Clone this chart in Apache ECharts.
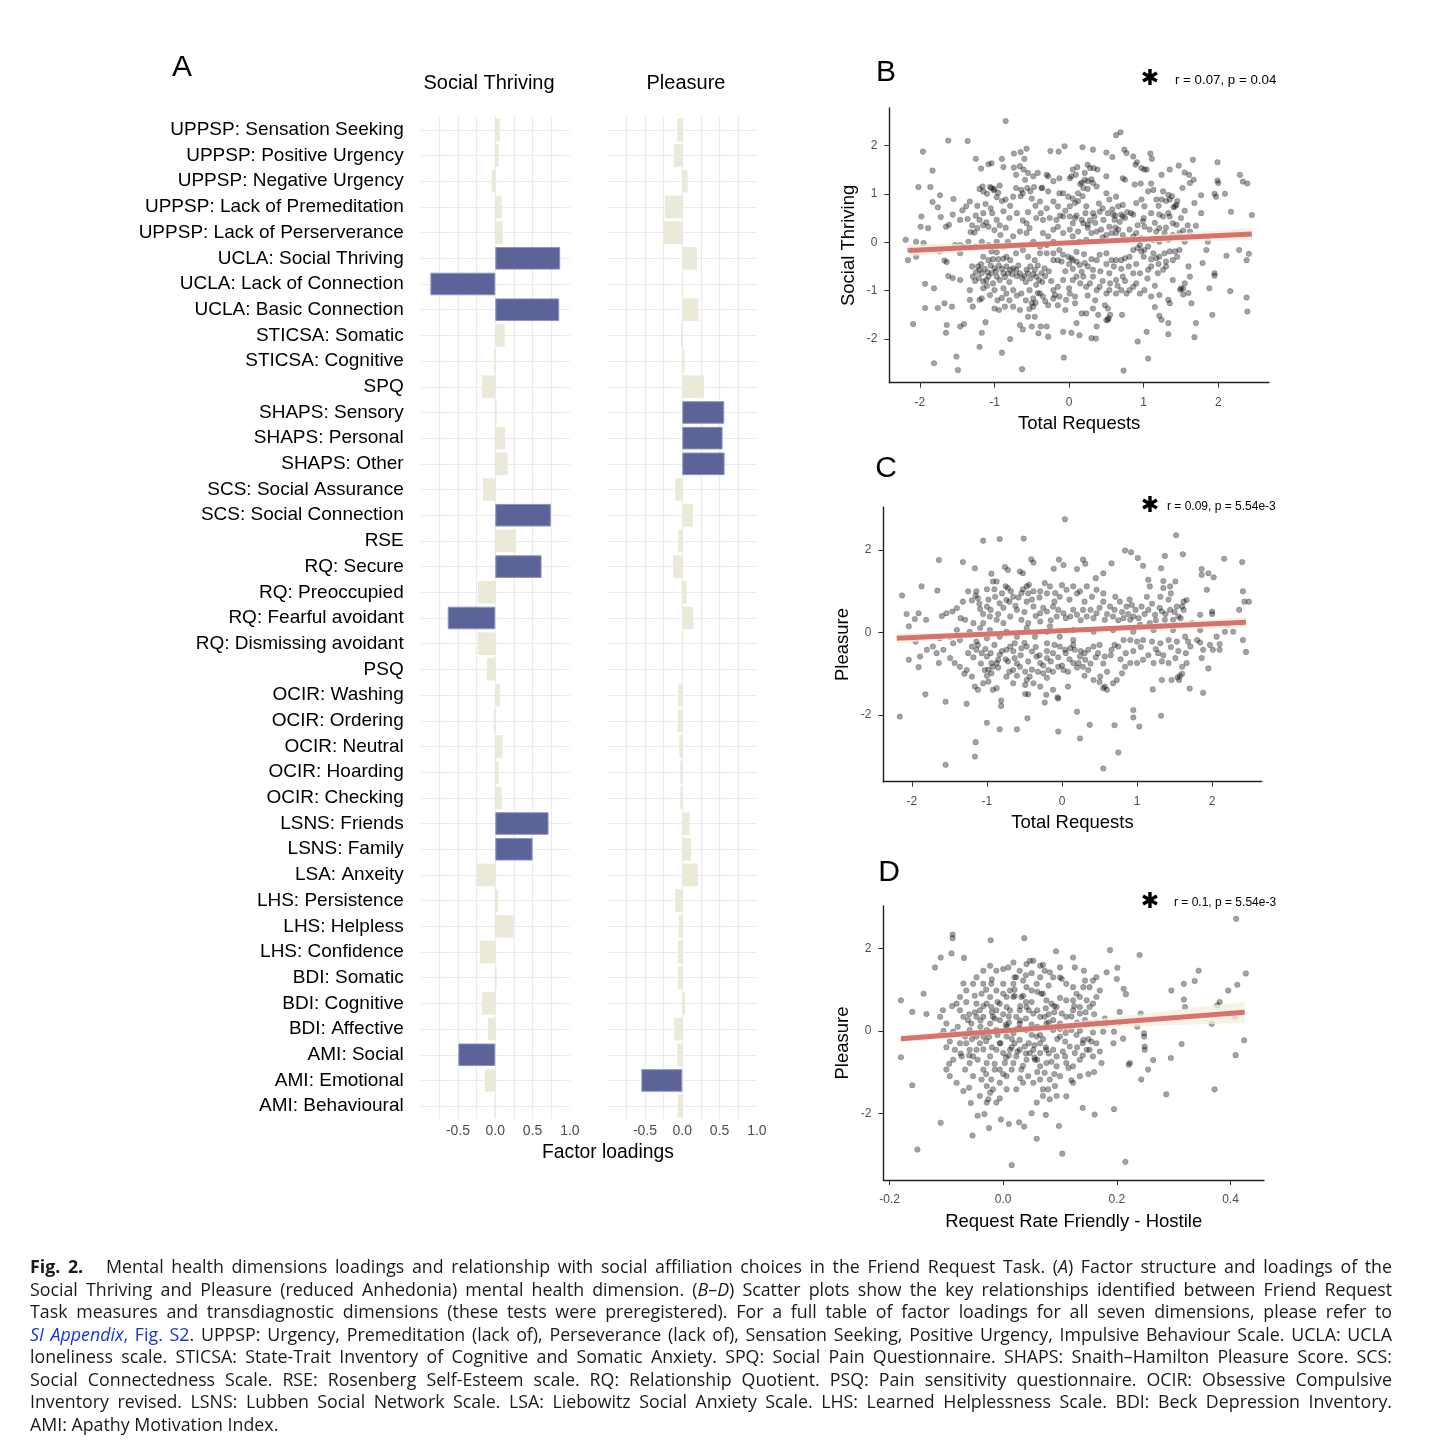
<!DOCTYPE html>
<html>
<head>
<meta charset="utf-8">
<script src="https://cdn.jsdelivr.net/npm/echarts@6/dist/echarts.min.js"></script>
<style>
html,body{margin:0;padding:0;background:#fff;}
#chart{position:absolute;left:0;top:0;width:1436px;height:1456px;}
#caption{position:absolute;left:30px;top:1255px;width:1362px;font-family:'Open Sans',sans-serif;font-size:17.8px;line-height:22.57px;color:#1a1a1a;}
#caption div{white-space:nowrap;text-align:left;}
#caption div.fit{text-align:justify;text-align-last:justify;}
#caption .lnk{color:#1535d8;}
</style>
</head>
<body>
<div id="chart"></div>
<div id="caption">
<div><span><b>Fig. 2.</b>&nbsp;&nbsp; Mental health dimensions loadings and relationship with social affiliation choices in the Friend Request Task. (<i>A</i>) Factor structure and loadings of the</span></div>
<div><span>Social Thriving and Pleasure (reduced Anhedonia) mental health dimension. (<i>B</i>–<i>D</i>) Scatter plots show the key relationships identified between Friend Request</span></div>
<div><span>Task measures and transdiagnostic dimensions (these tests were preregistered). For a full table of factor loadings for all seven dimensions, please refer to</span></div>
<div><span><span class="lnk"><i>SI Appendix</i>, Fig. S2</span>. UPPSP: Urgency, Premeditation (lack of), Perseverance (lack of), Sensation Seeking, Positive Urgency, Impulsive Behaviour Scale. UCLA: UCLA</span></div>
<div><span>loneliness scale. STICSA: State-Trait Inventory of Cognitive and Somatic Anxiety. SPQ: Social Pain Questionnaire. SHAPS: Snaith–Hamilton Pleasure Score. SCS:</span></div>
<div><span>Social Connectedness Scale. RSE: Rosenberg Self-Esteem scale. RQ: Relationship Quotient. PSQ: Pain sensitivity questionnaire. OCIR: Obsessive Compulsive</span></div>
<div><span>Inventory revised. LSNS: Lubben Social Network Scale. LSA: Liebowitz Social Anxiety Scale. LHS: Learned Helplessness Scale. BDI: Beck Depression Inventory.</span></div>
<div class="last"><span>AMI: Apathy Motivation Index.</span></div>
</div>
<script>
// ---------------- DATA ----------------
const categories = [
  'UPPSP: Sensation Seeking','UPPSP: Positive Urgency','UPPSP: Negative Urgency','UPPSP: Lack of Premeditation',
  'UPPSP: Lack of Perserverance','UCLA: Social Thriving','UCLA: Lack of Connection','UCLA: Basic Connection',
  'STICSA: Somatic','STICSA: Cognitive','SPQ','SHAPS: Sensory','SHAPS: Personal','SHAPS: Other',
  'SCS: Social Assurance','SCS: Social Connection','RSE','RQ: Secure','RQ: Preoccupied','RQ: Fearful avoidant',
  'RQ: Dismissing avoidant','PSQ','OCIR: Washing','OCIR: Ordering','OCIR: Neutral','OCIR: Hoarding','OCIR: Checking',
  'LSNS: Friends','LSNS: Family','LSA: Anxeity','LHS: Persistence','LHS: Helpless','LHS: Confidence',
  'BDI: Somatic','BDI: Cognitive','BDI: Affective','AMI: Social','AMI: Emotional','AMI: Behavioural'
];
const socialThriving = [0.06,0.045,-0.05,0.085,0.10,0.87,-0.87,0.857,0.125,-0.02,-0.18,0.02,0.13,0.165,-0.165,0.745,
  0.277,0.62,-0.232,-0.638,-0.237,-0.11,0.062,-0.022,0.098,0.045,0.085,0.714,0.50,-0.26,0.04,0.245,-0.205,0.018,-0.18,
  -0.098,-0.495,-0.143,-0.013];
const pleasure = [-0.067,-0.116,0.071,-0.232,-0.254,0.196,0.005,0.214,-0.018,0.03,0.29,0.5625,0.54,0.567,-0.094,0.143,
  -0.054,-0.125,0.058,0.147,0.009,0.002,-0.054,-0.062,-0.04,-0.027,-0.027,0.098,0.116,0.21,-0.094,-0.045,-0.058,-0.058,
  0.036,-0.107,-0.067,-0.549,-0.062];
const loadingTickLabels = [-0.5, 0, 0.5, 1.0];

const scatterB = [
[-0.85,2.5],[-1.62,2.1],[-1.36,2.09],[-1.96,1.87],[0.63,2.21],[0.69,2.27],[-0.06,1.98],[-0.14,1.87],[-0.25,1.88],[-0.57,1.93],
[-0.74,1.83],[-0.65,1.86],[-0.6,1.72],[0.18,1.96],[0.32,1.91],[0.5,1.85],[0.58,1.76],[0.74,1.91],[0.77,1.84],[0.86,1.77],
[1.09,1.83],[1.11,1.72],[1.66,1.7],[1.99,1.65],[-2.02,1.14],[-1.86,1.14],[-1.83,1.48],[-1.25,1.72],[-0.9,1.72],[-0.88,1.55],
[-1.18,1.52],[-1.08,1.61],[-1.04,1.63],[2.29,1.39],[2.33,1.25],[2.39,1.21],[1.99,1.27],[2.0,1.22],[2.09,1.0],[1.95,1.0],
[1.97,0.94],[2.17,0.63],[2.45,0.56],[2.41,-0.24],[2.38,-0.37],[2.28,-0.16],[2.11,-0.28],[2.38,-1.14],[2.39,-1.43],[2.16,-1.01],
[1.92,-1.5],[1.88,-0.95],[1.95,-0.69],[1.95,-0.64],[1.79,-0.43],[1.84,-0.16],[1.86,0.01],[1.77,0.6],[1.77,0.97],[1.68,0.81],
[1.7,0.34],[1.7,-1.67],[1.68,-1.96],[1.64,-1.26],[1.6,-1.05],[1.53,-0.96],[1.49,-0.98],[1.53,-1.08],[1.62,-0.71],[1.6,-0.5],
[1.33,-1.67],[1.33,-1.9],[1.24,-1.6],[1.21,-1.52],[1.15,-1.34],[1.04,-1.85],[1.06,-2.4],[0.92,-2.05],[0.73,-2.65],[0.71,-1.5],
[0.5,-1.61],[0.53,-1.57],[0.39,-1.5],[0.37,-1.74],[0.3,-1.98],[0.36,-1.99],[0.14,-1.92],[0.1,-1.67],[0.03,-1.87],[-0.08,-1.85],
[-0.07,-2.38],[-0.28,-1.95],[-0.3,-1.74],[-0.38,-1.74],[-0.41,-1.88],[-0.5,-1.74],[-0.62,-1.8],[-0.63,-2.62],[-0.66,-1.71],[-0.79,-2.0],
[-0.9,-2.28],[-1.12,-1.65],[-1.2,-2.16],[-1.17,-1.87],[-1.41,-1.69],[-1.46,-1.74],[-1.51,-2.36],[-1.49,-2.64],[-1.64,-1.71],[-1.65,-1.87],
[-1.81,-2.5],[-2.09,-1.69],[-1.93,-1.36],[-1.76,-1.36],[-1.67,-1.26],[-1.57,-1.33],[-1.93,-0.86],[-1.81,-0.95],[-2.16,-0.37],[-2.13,-0.16],
[-2.19,0.05],[-2.05,0.01],[-1.95,-0.02],[-2.05,-0.3],[-1.98,0.53],[-1.99,0.32],[-1.89,0.29],[-1.83,0.83],[-1.76,0.72],[-1.73,0.97],
[-1.72,0.52],[-1.65,0.32],[-1.61,0.36],[-1.55,0.89],[-1.56,0.57],[-1.53,-0.06],[-1.46,-0.06],[-1.74,-0.19],[-1.67,-0.38],[-1.64,-0.41],
[-1.62,-0.7],[-1.56,-0.74],[-1.46,-0.78],
[-1.2,1.1],[-1.16,1.15],[-1.06,1.14],[-1.04,1.12],[-1.01,1.07],[-0.93,1.17],[-0.97,0.93],[-1.12,0.79],[-1.23,0.75],[-1.33,0.84],
[-1.38,0.74],[-1.43,0.66],[-1.36,0.48],[-1.46,0.46],[-1.27,0.2],[-1.32,0.21],[-1.2,0.46],[-1.23,0.29],[-1.11,0.41],[-1.08,0.32],
[-1.03,0.6],[-0.97,0.46],[-0.93,0.35],[-0.85,0.3],[-0.88,0.64],[-0.85,0.88],[-0.79,0.75],[-0.75,0.94],[-0.71,1.12],[-0.64,1.08],
[-0.62,1.01],[-0.56,1.12],[-0.52,1.05],[-0.47,1.14],
[-0.39,0.84],[-0.37,1.12],[-0.28,1.05],[-0.21,0.84],[-0.15,0.74],[-0.13,1.01],[-0.08,1.01],[-0.01,0.94],[0.01,0.74],[0.08,0.81],
[0.12,1.01],[0.19,1.12],[0.21,1.29],[0.25,1.26],[0.32,1.22],[0.37,1.15],[0.23,0.74],[0.19,0.39],[0.17,0.46],[0.25,0.36],
[0.34,0.53],[0.5,1.01],[0.54,0.88],[0.63,0.94],[0.66,0.74],[0.72,0.77],[0.59,0.57],[0.61,0.46],[0.7,0.57],[0.72,0.53],
[0.83,0.6],[0.86,0.57],[0.9,0.81],[0.97,0.88],[1.01,0.74],[1.06,1.05],[1.13,1.08],[1.17,0.88],[1.24,0.88],[1.26,1.05],
[1.33,0.98],[1.35,0.88],[1.42,0.74],[1.44,0.77],[1.33,0.6],[1.21,0.57],[1.26,0.53],[1.35,0.53],[0.99,0.43],[1.01,0.32],
[1.08,0.26],[1.21,0.29],[1.17,0.22],[1.28,0.19],[1.39,0.39],[1.44,0.36],[1.59,0.35],[1.62,0.22],[1.53,0.24],[0.05,1.5],
[0.11,1.55],[0.09,1.39],[0.21,1.43],[0.25,1.6],[0.28,1.53],[0.33,1.53],[0.38,1.5],[0.01,1.32],[0.03,1.36],[0.17,1.23],
[-0.13,1.32],[-0.28,1.36],[-0.21,1.26],[-0.36,1.12],[-0.48,1.36],[-0.59,1.29],[-0.71,1.39],[-0.74,1.54],[-0.66,1.57],[-0.61,1.5],
[-0.55,1.43],[-0.42,1.43],[-0.3,1.39],[0.5,1.36],[0.72,1.32],[0.75,1.29],[0.88,1.19],[0.96,1.21],[1.1,1.21],[0.97,1.53],
[1.01,1.5],[0.89,1.6],[0.91,1.65],[1.04,1.5],[1.24,1.39],[1.35,1.5],[1.47,1.58],[1.55,1.44],[1.61,1.39],[1.67,1.29],
[1.52,1.12],[1.62,1.22],
[-1.22,-0.5],[-1.2,-0.57],[-1.17,-0.64],[-1.21,-0.74],[-1.15,-0.81],[-1.11,-0.78],[-1.08,-0.71],[-1.04,-0.64],[-1.0,-0.54],[-0.97,-0.71],
[-0.93,-0.78],[-0.88,-0.64],[-0.84,-0.5],[-0.82,-0.64],[-0.79,-0.57],[-0.75,-0.54],[-0.71,-0.57],[-0.66,-0.64],[-0.63,-0.74],[-0.57,-0.57],
[-0.55,-0.64],[-0.52,-0.5],[-0.46,-0.57],[-0.44,-0.71],[-0.4,-0.78],[-0.37,-0.64],[-0.33,-0.54],[-1.15,-0.3],[-1.08,-0.37],[-1.02,-0.35],
[-0.95,-0.35],[-0.88,-0.34],[-1.04,-0.19],[-0.97,-0.21],[-0.84,-0.3],[-0.79,-0.37],[-0.71,-0.23],[-0.62,-0.16],[-0.55,-0.3],[-0.46,-0.37],
[-0.39,-0.23],[-0.3,-0.23],[-0.21,-0.37],[-0.39,-1.06],[-0.35,-1.12],[-0.28,-1.3],[-0.21,-1.16],[-0.19,-1.09],[-0.48,-1.16],[-0.5,-1.26],
[-0.48,-1.33],[-0.53,-0.99],[-0.64,-1.06],[-0.75,-0.99],[-0.84,-1.06],[-0.88,-0.95],[-1.0,-0.99],[-1.06,-1.09],[-1.17,-1.16],[-1.2,-1.19],
[-1.29,-1.33],[-1.33,-0.99],[-1.33,-1.19],[-1.26,-0.8],[-1.29,-0.71],[-1.15,-0.95],[-1.0,-1.37],[-0.94,-1.4],[-0.86,-1.33],[-0.75,-1.33],
[-0.66,-1.4],[-0.55,-1.54],[-0.46,-1.54],
[-0.13,-0.16],[-0.08,-0.26],[-0.01,-0.3],[0.03,-0.33],[0.05,-0.37],[0.1,-0.4],[0.14,-0.47],[0.21,-0.43],[0.25,-0.5],[0.32,-0.57],
[0.37,-0.37],[0.41,-0.26],[0.5,-0.23],[0.57,-0.37],[0.63,-0.37],[0.7,-0.37],[0.75,-0.33],[0.81,-0.3],[0.86,-0.16],[0.92,-0.12],
[0.97,-0.19],[1.01,-0.16],[1.06,-0.09],[1.13,-0.23],[1.17,-0.33],[1.21,-0.3],[1.28,-0.23],[1.35,-0.19],[1.39,-0.37],[1.42,-0.19],
[1.48,-0.16],[1.1,-0.5],[1.06,-0.57],[1.19,-0.64],[1.26,-0.57],[1.3,-0.5],[1.39,-0.78],[0.05,-0.78],[0.1,-0.71],[0.01,-1.06],
[0.08,-1.12],[-0.04,-1.19],[-0.13,-1.12],[-0.21,-0.99],[-0.15,-0.92],[-0.08,-0.78],[0.23,-0.92],[0.28,-0.85],[0.37,-0.99],[0.41,-0.92],
[0.5,-1.06],[0.54,-0.99],[0.63,-1.06],[0.7,-0.99],[0.77,-1.06],[0.81,-0.99],[0.86,-0.92],[0.95,-1.06],[1.01,-0.99],[1.1,-1.12],
[1.21,-1.09],[1.33,-1.19],[1.35,-1.26],[0.48,-1.3],[0.52,-1.37],[0.32,-1.37],[0.23,-1.47],[0.17,-1.47],[0.08,-1.26],[0.54,-0.64],
[0.63,-0.78],[0.72,-0.71],[0.86,-0.64],[0.95,-0.64],[0.19,-0.71],[0.32,-0.71],[0.17,-0.61],
[-0.35,0.19],[-0.28,0.12],[-0.21,0.26],[-0.15,0.32],[-0.08,0.19],[0.01,0.26],[0.05,0.12],[0.12,0.22],[0.14,0.01],[0.23,0.05],
[0.3,0.19],[0.37,0.22],[0.43,0.26],[0.5,0.15],[0.57,0.19],[0.66,0.26],[0.72,0.15],[0.81,0.26],[0.9,0.19],[0.97,0.08],
[-0.21,0.01],[-0.3,-0.06],[-0.39,-0.09],[-0.48,0.01],[-0.57,0.19],[-0.66,0.22],[-0.75,0.12],[-0.82,0.01],[-0.88,-0.09],[-0.97,0.01],
[-1.08,-0.06],[-1.17,0.01],[-1.26,-0.09],[-1.35,0.01],[-1.42,-0.09],[-1.46,-0.23],[-0.15,-0.37],[-0.21,-0.23],[0.05,0.39],[0.08,0.5],
[0.01,0.53],[-0.08,0.53],[-0.17,0.46],[-0.26,0.5],[-0.35,0.46],[-0.44,0.5],[-0.53,0.29],[-0.57,0.39],[0.32,0.6],[0.41,0.63],
[0.54,0.32],[0.46,0.46],[0.63,0.19],[0.77,0.05],[0.86,0.12],[0.95,-0.06],[1.13,0.05],[1.21,0.01],[1.33,0.05],[1.39,0.15],
[1.48,0.19],[1.55,0.01],
[-1.18,-0.45],[-1.13,-0.55],[-1.09,-0.62],[-1.05,-0.48],[-0.98,-0.6],[-0.94,-0.48],[-0.9,-0.55],[-0.86,-0.72],[-0.8,-0.82],[-0.76,-0.66],
[-0.7,-0.7],[-0.68,-0.48],[-0.6,-0.7],[-0.58,-0.82],[-0.52,-0.75],[-0.48,-0.66],[-0.44,-0.88],[-0.42,-0.48],[-0.36,-0.82],[-0.32,-0.7],
[-0.27,-0.6],[-0.24,-0.8],[-1.25,-0.62],[-1.3,-0.5],[-1.1,-0.9],[-1.02,-0.85],[-0.96,-1.2],[-0.9,-1.15],[-0.8,-1.2],[-0.7,-1.1],
[-0.58,-1.2],[-0.53,-1.38],[-0.45,-1.25],[-0.42,-1.05],[-0.32,-1.22],
[-1.15,1.05],[-1.1,1.0],[-1.0,1.1],[-0.95,1.02],[-0.9,0.85],[-1.05,0.7],[-1.15,0.6],[-1.25,0.55],[-1.3,0.35],[-1.15,0.35],
[-1.0,0.25],[-0.92,0.15],[-0.8,0.5],[-0.7,0.6],[-0.62,0.45],[-0.55,0.62],[-0.45,0.75],[-0.38,0.6],[-0.3,0.7],[-0.5,0.9],[-0.65,0.95],
[0.05,0.9],[0.12,0.85],[0.18,0.95],[0.22,0.6],[0.28,0.45],[0.35,0.4],[0.4,0.8],[0.45,0.7],[0.52,0.6],[0.58,0.68],
[0.62,0.55],[0.68,0.42],[0.75,0.5],[0.78,0.62],[0.62,0.3],[0.45,0.1],[0.25,0.3],[0.1,0.55],[-0.05,0.65],[-0.12,0.55],
[0.15,1.2],[0.25,1.1],[0.3,1.3],
[1.3,0.85],[1.38,0.95],[1.45,0.85],[1.4,0.72],[1.2,0.75],[1.1,0.6],[1.0,0.5],[0.92,0.35],[1.15,0.4],[1.3,0.3],
[1.5,0.5],[1.55,0.65],[1.45,-0.3],[1.3,-0.4],[1.2,-0.45],[1.1,-0.35],[1.0,-0.3],[0.9,-0.45],[0.8,-0.5],[0.7,-0.55],
[0.6,-0.5],[0.5,-0.45],[0.42,-0.6],[0.3,-0.35],[0.2,-0.25],[0.1,-0.2],[0.05,-0.55],[0.0,-0.45],[-0.05,-0.6],[-0.1,-0.4],
[0.15,-0.85],[0.25,-1.1],[0.35,-1.2],[0.45,-0.8],[0.55,-0.85],[0.65,-0.9],[0.75,-0.8],[0.9,-0.85],[1.05,-0.75],[1.15,-0.9],
[1.5,-0.95],[1.55,-0.85],[0.55,-1.5],[0.52,-1.6],[-0.15,-1.3],[-0.05,-1.4],[0.0,-0.95]
];
const fitB = [[-2.15,-0.17],[2.45,0.17]];
const bandB = [[-2.15,-0.29,-0.05],[-1,-0.15,-0.02],[0,-0.05,0.03],[1,0.0,0.13],[2.45,0.04,0.30]];

const scatterC = [
[0.04,2.75],[-1.05,2.23],[-0.83,2.27],[-0.51,2.28],[1.52,2.36],[-1.64,1.76],[-1.32,1.71],[-1.16,1.56],[-2.13,0.9],[-1.87,1.12],
[-1.66,1.02],[-2.07,0.45],[-1.91,0.47],[-2.04,0.15],[-1.96,0.33],[-1.95,-0.22],[-1.81,0.31],[-2.04,-0.66],[-1.91,-0.84],[-1.82,-1.5],
[-1.64,-0.74],[-2.16,-2.04],[-1.55,-1.68],[-1.55,-3.21],[-1.27,-1.73],[-1.16,-3.01],[-1.15,-2.66],[-1.0,-2.19],[-0.83,-2.35],[-0.81,-1.78],
[-0.81,-1.65],[-0.6,-2.35],[-0.46,-2.08],[-0.49,-1.49],[-0.23,-1.7],[-0.21,-1.51],[-0.05,-1.6],[-0.06,-1.57],[-0.05,-2.4],[0.2,-1.92],
[0.24,-2.57],[0.37,-2.24],[0.55,-3.3],[0.7,-2.25],[0.75,-2.91],[0.95,-1.88],[0.95,-2.06],[1.03,-2.28],[1.32,-2.02],[1.88,-1.46],
[1.7,-1.36],[1.21,-1.38],[1.33,-1.15],[1.46,-1.15],[1.56,-1.15],[1.57,-1.05],[1.54,-1.09],[1.95,-0.87],[1.86,-0.62],[2.01,-0.42],
[1.88,-0.42],[2.1,-0.28],[2.1,-0.42],[1.97,-0.3],[1.84,-0.24],[2.45,-0.47],[2.41,-0.18],[2.17,0.02],[2.28,0.02],[2.39,0.23],
[2.36,0.55],[2.43,0.75],[2.49,0.75],[2.41,1.0],[2.4,1.71],[2.16,1.79],[1.86,1.54],[1.86,1.4],[1.95,1.44],[2.02,1.34],
[1.93,1.04],[2.0,0.51],[2.0,0.45],[1.84,0.43],[1.61,1.9],[1.37,1.86],[0.84,1.99],[0.92,1.95],[1.01,1.81],[1.08,1.62],
[1.32,1.56],[0.66,1.68],[0.28,1.77],[0.31,1.67],[0.2,1.54],[-0.04,1.77],[-0.11,1.55],[0.02,1.64],[0.55,1.44],[0.45,1.32],
[-0.41,1.78],[-0.38,1.7],[-0.76,1.59],[-0.72,1.52],[-0.56,1.48],[-0.52,1.44],
[-0.94,1.43],[-0.92,1.24],[-0.87,1.24],[-0.75,1.12],[-0.72,1.08],[-1.0,1.05],[-1.14,1.0],[-1.25,1.0],[-1.12,0.83],[-1.2,0.78],
[-1.32,0.75],[-1.4,0.59],[-1.46,0.51],[-1.54,0.47],[-1.6,0.4],[-1.35,0.35],[-1.29,0.31],[-1.18,0.23],[-1.09,0.57],[-1.0,0.63],
[-0.89,0.87],[-0.83,0.71],[-0.74,0.79],[-0.65,0.87],[-0.54,0.96],[-0.47,1.12],[-0.44,1.16],[-0.38,1.0],[-0.29,1.0],[-0.23,1.2],
[-0.16,1.12],[-0.09,0.96],[-0.03,0.87],[0.06,1.04],[0.15,1.12],[0.24,1.0],[0.33,1.12],[0.4,0.87],[0.46,1.04],[0.55,0.75],
[0.64,0.63],[0.71,0.87],[0.77,0.75],[0.86,0.63],[0.93,0.67],[0.95,0.39],[1.06,0.63],[1.15,0.55],[1.24,0.43],[1.33,0.51],
[1.44,0.55],[1.53,0.63],[1.6,0.63],[1.66,0.79],[1.62,0.75],[1.55,0.39],[1.48,0.31],[1.37,0.31],[1.31,0.87],[1.17,1.12],
[1.15,1.28],[1.35,1.08],[1.44,1.12],[1.51,1.24],[1.13,0.87],[-0.12,0.63],[-0.2,0.51],[-0.29,0.47],[-0.38,0.63],[-0.47,0.75],
[-0.6,0.55],[-0.69,0.39],[-0.78,0.23],[-0.87,0.31],[-0.96,0.39],[-1.05,0.23],[-1.09,0.11],[-0.54,0.31],[-0.45,0.23],[-0.29,0.27],
[-0.16,0.15],[-0.07,0.39],[0.02,0.47],[0.11,0.39],[0.2,0.43],[0.28,0.55],[0.33,0.39],[0.46,0.47],[0.57,0.31],[0.68,0.39],
[0.82,0.35],[0.91,0.31],[1.04,0.19],[1.17,0.23],[1.31,0.15],
[-1.2,-0.34],[-1.14,-0.42],[-1.07,-0.5],[-1.0,-0.58],[-0.94,-0.74],[-0.92,-0.83],[-0.85,-0.66],[-0.83,-0.54],[-0.74,-0.42],[-0.69,-0.34],
[-0.63,-0.26],[-0.54,-0.38],[-0.47,-0.34],[-0.4,-0.46],[-0.34,-0.58],[-0.29,-0.74],[-0.2,-0.62],[-0.12,-0.5],[-0.03,-0.34],[0.04,-0.42],
[0.11,-0.38],[0.17,-0.42],[0.24,-0.58],[0.31,-0.66],[0.35,-0.42],[0.42,-0.34],[0.48,-0.5],[0.57,-0.58],[0.66,-0.42],[0.75,-0.34],
[0.82,-0.18],[0.91,-0.18],[1.0,-0.22],[1.08,-0.18],[1.2,-0.22],[1.31,-0.26],[1.42,-0.18],[1.53,-0.22],[1.64,-0.1],[-1.49,-0.62],
[-1.43,-0.74],[-1.36,-0.83],[-1.27,-0.91],[-1.2,-1.07],[-1.16,-1.31],[-1.12,-1.39],[-1.05,-1.23],[-0.98,-1.19],[-0.92,-1.39],[-0.87,-1.35],
[-0.94,-0.99],[-1.03,-0.91],[-0.74,-1.07],[-0.65,-0.91],[-0.56,-0.83],[-0.49,-0.95],[-0.43,-1.07],[-0.38,-1.23],[-0.32,-0.95],[-0.25,-0.99],
[-0.18,-0.91],[-0.12,-0.95],[-0.05,-0.83],[0.02,-0.91],[0.08,-0.95],[0.15,-0.74],[0.22,-0.74],[0.28,-0.83],[0.35,-0.91],[0.42,-1.15],
[0.51,-1.07],[0.57,-1.31],[0.6,-1.39],[0.68,-1.23],[0.73,-1.15],[0.8,-0.99],[0.84,-0.83],[0.91,-0.74],[1.0,-0.74],[1.08,-0.66],
[1.22,-0.74],[1.33,-0.7],[1.42,-0.74],[1.51,-0.62],[1.6,-0.83],[1.66,-0.74],[-1.36,-0.18],[-1.45,-0.26],[-1.58,-0.42],[-1.67,-0.5],
[-1.72,-0.34],[-1.63,-0.14],[-1.49,-0.1],[-1.89,-0.58],[-1.8,-0.42],[-0.49,-1.27],[-0.47,-1.15],[-0.12,-1.39],[0.08,-1.31],[-0.29,-1.31],
[-0.65,-1.23],[-0.87,-0.74],[-0.72,-0.7],[-0.63,-0.62],[-0.2,-0.26],[0.15,-0.18],[-0.03,-0.1],[-0.36,-0.1],[-0.6,-0.1],[-0.83,-0.1],
[-1.0,-0.14],[-1.14,-0.22],[1.71,-0.34],[1.68,-0.22],[1.8,-0.18],[1.28,-0.5],
[-1.4,0.06],[-1.23,0.02],[-0.96,0.06],[-0.74,0.02],[-0.47,0.11],[-0.2,0.02],[0.15,0.06],[0.42,0.02],[0.68,0.06],[0.95,0.02],
[1.22,0.06],[1.48,0.06],[1.84,0.06],[2.06,-0.1],[2.2,0.19],[1.73,0.23],
[-1.15,0.9],[-1.1,0.7],[-1.05,0.45],[-0.98,0.8],[-0.95,0.55],[-0.9,1.05],[-0.85,0.45],[-0.8,0.95],[-0.78,0.6],[-0.7,0.75],
[-0.68,1.0],[-0.62,0.65],[-0.58,0.85],[-0.52,1.05],[-0.5,0.5],[-0.45,0.95],[-0.4,0.8],[-0.35,0.4],[-0.3,0.85],[-0.25,0.6],
[-0.2,0.95],[-0.15,0.3],[-0.1,0.75],[-0.05,0.55],[0.0,1.15],[0.05,0.35],[0.1,0.8],[0.15,0.55],[0.2,0.95],[0.25,0.3],
[0.3,0.75],[0.38,0.55],[0.42,0.35],[0.5,0.6],[0.55,0.95],[0.6,0.45],[0.7,0.55],[0.75,0.3],[0.8,0.5],[0.88,0.45],
[0.9,0.8],[0.98,0.55],[1.02,0.35],[1.1,0.45],[1.2,0.7],[1.25,0.3],[1.3,0.6],[1.38,0.45],[1.42,0.8],[1.5,0.5],
[1.58,0.35],[1.62,0.55],[1.35,1.25],[1.45,0.95],
[-1.25,-0.5],[-1.18,-0.6],[-1.12,-0.3],[-1.08,-0.75],[-1.02,-0.4],[-0.98,-0.9],[-0.95,-0.5],[-0.9,-0.3],[-0.85,-0.85],[-0.8,-0.45],
[-0.75,-0.65],[-0.7,-0.95],[-0.65,-0.45],[-0.6,-0.75],[-0.55,-0.55],[-0.5,-0.25],[-0.45,-0.7],[-0.4,-0.9],[-0.35,-0.35],[-0.3,-0.55],
[-0.25,-0.8],[-0.2,-0.45],[-0.15,-0.7],[-0.1,-0.3],[-0.05,-0.6],[0.0,-0.8],[0.05,-0.5],[0.1,-0.65],[0.15,-0.3],[0.2,-0.85],
[0.25,-0.45],[0.3,-0.5],[0.38,-0.75],[0.45,-0.6],[0.5,-0.3],[0.55,-0.75],[0.6,-0.95],[0.65,-0.55],[0.7,-0.3],[0.78,-0.65],
[0.85,-0.5],[0.95,-0.45],[1.05,-0.35],[1.15,-0.55],[1.25,-0.4],[1.35,-0.55],[1.45,-0.35],[1.55,-0.45],[1.65,-0.5],[1.6,-1.0],
[-1.3,-1.0],[-1.0,-1.05],[-0.6,-1.05],[-0.2,-1.1],[0.3,-1.05],[0.5,-1.2],[-0.45,-1.5],[0.55,-1.35]
];
const fitC = [[-2.2,-0.14],[2.45,0.25]];
const bandC = [[-2.2,-0.26,-0.02],[-1,-0.1,0.02],[0,0.005,0.085],[1,0.07,0.19],[2.45,0.12,0.38]];

const scatterD = [
[0.41,2.72],[-0.18,0.74],[-0.16,0.46],[-0.14,0.9],[-0.135,0.41],[-0.18,-0.64],[-0.16,-1.32],[-0.151,-2.88],[-0.11,-2.23],[-0.12,1.54],
[-0.11,1.78],[-0.089,2.34],[-0.089,2.25],[-0.091,1.88],[-0.069,1.77],[-0.022,2.2],[0.037,2.25],[0.093,1.93],[0.123,1.78],[0.188,1.96],
[0.24,1.84],[0.201,1.53],[0.2,1.26],[0.212,1.02],[0.216,0.89],[0.182,1.42],[0.142,1.46],[0.296,0.98],[0.318,1.14],[0.337,1.21],
[0.344,1.46],[0.318,0.76],[0.32,0.58],[0.396,0.98],[0.412,1.12],[0.427,1.39],[0.381,0.7],[0.377,0.62],[0.367,0.17],[0.408,0.34],
[0.424,-0.23],[0.409,-0.59],[0.372,-1.42],[0.314,-0.32],[0.295,-0.66],[0.287,-1.54],[0.264,-0.71],[0.255,-0.94],[0.243,-1.18],[0.248,-0.06],
[0.248,-0.14],[0.249,-0.38],[0.249,-0.46],[0.236,0.1],[0.242,0.42],[0.221,-0.82],[0.223,-0.78],[0.211,-0.19],[0.215,-3.18],[0.195,-1.9],
[0.161,-2.03],[0.14,-1.87],[0.098,-2.31],[0.104,-2.98],[0.111,-1.59],[0.075,-2.04],[0.05,-2.0],[0.059,-2.62],[0.037,-2.32],[0.028,-2.22],
[0.01,-2.26],[0.015,-3.26],[-0.004,-2.15],[-0.025,-2.36],[-0.033,-2.02],[-0.045,-2.06],[-0.054,-2.54],[-0.057,-1.75],[-0.041,-1.58],[-0.026,-1.66],
[-0.006,-1.64],[-0.06,-1.38],[-0.07,-1.46],[0.195,-0.02],[0.194,-0.3],[0.205,0.2],[0.205,0.46],[0.158,-0.04],[0.155,-0.26],[0.176,-0.02],
[0.182,0.18],[0.179,0.3],
[-0.094,-0.26],[-0.088,-0.02],[-0.1,0.18],[-0.111,0.34],[-0.106,0.5],[-0.082,0.66],[-0.076,0.82],[-0.065,0.98],[-0.053,1.14],[-0.047,1.3],
[-0.035,1.46],[-0.023,1.58],[-0.012,1.46],[0.0,1.5],[0.009,1.54],[0.018,1.66],[0.029,1.46],[0.041,1.62],[0.047,1.7],[0.053,1.7],
[0.065,1.58],[0.073,1.46],[0.082,1.42],[0.088,1.3],[0.1,1.54],[0.103,1.26],[0.111,1.14],[0.123,1.06],[0.129,0.9],[0.135,0.82],
[0.141,1.06],[0.147,0.74],[0.152,0.58],[0.158,0.66],[0.164,0.82],[0.17,0.98],[-0.076,0.5],[-0.07,0.34],[-0.062,0.26],[-0.059,0.02],
[-0.067,-0.14],[-0.076,-0.3],[-0.085,-0.46],[-0.088,-0.7],[-0.1,-0.94],[-0.094,-1.1],[-0.082,-1.26],[-0.067,-0.94],[-0.059,-0.78],[-0.053,-0.62],
[-0.047,-0.46],[-0.041,-0.3],[-0.035,-0.14],[-0.029,0.02],[-0.023,0.18],[-0.018,0.34],[-0.012,0.5],[-0.006,0.66],[0.006,0.82],[0.012,0.98],
[0.018,1.14],[0.023,1.3],[0.035,1.22],[0.041,1.06],[0.05,0.98],[0.059,1.14],[0.067,0.9],[0.076,0.74],[0.085,0.66],[0.094,0.58],
[0.103,0.42],[0.111,0.34],[0.123,0.5],[0.135,0.42],[0.144,0.26],[0.152,0.18],[-0.012,0.98],[-0.023,0.82],[-0.029,0.66],[-0.041,0.5],
[-0.047,0.34],[-0.056,0.18],[-0.035,1.14],[-0.021,1.14],[0.0,1.14],[0.032,0.82],[0.041,0.58],[0.053,0.42],[0.065,0.34],[0.076,0.18],
[0.088,0.02],[0.1,-0.14],[0.109,-0.26],[0.117,-0.38],[0.126,-0.54],[0.135,-0.7],[0.147,-0.46],[0.141,-0.22],[0.129,-0.1],[0.12,0.02],
[-0.006,0.26],[0.006,0.1],[0.018,-0.06],[0.029,-0.22],[0.038,-0.38],[0.047,-0.54],[0.056,-0.7],[0.065,-0.86],[0.073,-1.02],[0.082,-1.18],
[0.091,-1.34],[0.1,-1.1],[0.111,-0.78],[0.109,-0.62],[0.094,-0.62],[0.088,-0.46],[0.076,-0.46],[0.065,-0.3],[0.059,-0.14],[0.041,0.02],
[0.029,0.18],[0.023,0.34],[0.012,0.5],[0.029,0.5],[0.006,-0.14],[-0.006,-0.3],[-0.012,-0.46],[-0.023,-0.62],[-0.029,-0.78],[-0.035,-0.94],
[-0.038,-1.18],[-0.029,-1.34],[-0.018,-1.42],[-0.006,-1.26],[0.006,-1.1],[0.015,-0.94],[0.018,-0.78],[0.023,-0.62],[0.012,-0.46],[0.0,-0.54],
[-0.015,-0.94],[0.003,-0.78],[0.032,-0.94],[0.044,-1.1],[0.053,-1.26],[0.065,-1.18],[0.079,-1.42],[0.07,-1.58],[0.059,-1.74],[0.035,-1.26],
[0.023,-1.42],[0.006,-1.42],[-0.021,-1.18],[-0.006,-0.94],[0.041,-0.7],[0.076,-0.78],[0.094,-0.86],[0.065,-0.54],[0.053,-0.46],[-0.059,-0.46],
[-0.073,-0.62],[-0.053,-1.1],[-0.065,-0.3],[-0.047,0.66],[-0.038,0.9],[0.073,0.34],[0.088,0.26],[0.1,0.18],[0.111,0.74],[0.123,0.74],
[0.135,0.58],[0.144,1.22],[0.152,1.06],[0.158,1.22],[0.164,1.3],[0.126,1.54],[0.065,1.3],[0.018,0.82],[0.006,0.58],[-0.021,0.58],
[-0.035,0.34],[-0.012,0.02],[-0.047,-0.14],[0.029,-0.46],[0.123,-0.86],[0.152,-0.46],[0.158,-0.62],[0.164,-0.3],[0.173,-0.78],[0.135,-1.1],
[0.123,-1.26],[0.094,-1.58],[0.082,-1.66],[0.07,-1.42],[-0.012,-1.74],[-0.029,-1.74],[-0.023,-1.5],
[0.01,0.2],[0.03,0.05],[0.05,-0.1],[0.02,-0.3],[0.04,0.3],[0.06,0.1],[-0.01,-0.1],[0.0,0.4],[0.07,-0.2],[0.08,0.4],
[0.05,0.7],[0.03,0.6],[-0.02,-0.4],[0.01,-0.6],[0.04,-0.55],[0.06,-0.7],[0.08,-0.55],[0.1,0.05],[0.11,-0.05],[0.09,0.6],
[-0.04,0.1],[-0.05,0.45],[-0.06,-0.6],[-0.03,-0.25],[0.02,0.85],[0.05,1.4],[0.07,1.6],[0.13,0.2],[0.14,-0.3],[0.16,0.4],
[-0.065,0.7],[-0.06,0.4],[-0.055,-0.2],[-0.05,0.85],[-0.045,-0.7],[-0.04,0.25],[-0.035,-0.45],[-0.03,1.0],[-0.025,-0.15],[-0.02,0.45],
[-0.015,-0.8],[-0.01,0.7],[-0.005,-0.3],[0.0,0.9],[0.005,-0.65],[0.01,0.35],[0.015,-0.2],[0.02,1.0],[0.025,-0.5],[0.03,0.25],
[0.035,-0.85],[0.04,0.7],[0.045,-0.3],[0.05,0.15],[0.055,-0.65],[0.06,0.5],[0.065,-0.1],[0.07,0.9],[0.075,-0.4],[0.08,0.2],
[0.085,-0.75],[0.09,0.45],[0.095,-0.2],[0.1,0.8],[0.105,-0.5],[0.11,0.1],[0.115,-0.9],[0.12,0.35],[0.125,0.6],[0.13,-0.4],
[0.135,0.0],[0.14,-0.6],[0.145,0.45],[0.15,-0.2],[0.16,-1.0],[0.165,0.2],[0.17,-0.5],[-0.08,0.1],[-0.075,-0.55],[-0.07,1.15],
[-0.09,0.6],[-0.095,-0.8],[-0.1,-0.4],[-0.105,0.0],[-0.11,-0.1],[0.02,1.3],[0.04,1.35],[0.06,0.95],[0.08,1.1],[0.1,1.3],
[-0.02,1.25],[0.0,-1.05],[0.03,-1.15],[0.06,-1.0],[0.09,-1.05],[-0.03,-1.05],[0.12,-1.2],[0.15,-1.05],[0.045,0.5],[0.025,0.05],
[0.005,0.15],[-0.015,0.3],[0.075,0.55],[0.095,0.1],[0.055,-0.35],[0.015,-0.4],[-0.035,0.6],[0.035,0.85]
];
const fitD = [[-0.18,-0.19],[0.425,0.45]];
const bandD = [[-0.18,-0.29,-0.09],[0,-0.05,0.05],[0.1,0.03,0.18],[0.2,0.08,0.34],[0.3,0.14,0.5],[0.425,0.19,0.71]];

const annotations = ['r = 0.07, p = 0.04', 'r = 0.09, p = 5.54e-3', 'r = 0.1, p = 5.54e-3'];

// ---------------- CHART ----------------
const FONT = 'Liberation Sans, Arial, sans-serif';
const BLUE = '#5c6399';
const BEIGE = '#ebe9d7';
const GRID_COL = '#ebebeb';

const chart = echarts.init(document.getElementById('chart'), null, {renderer: 'canvas', width: 1436, height: 1456});

function barData(vals) {
  return vals.map(v => ({
    value: v,
    itemStyle: Math.abs(v) > 0.3
      ? {color: BLUE, borderColor: '#8d93c0', borderWidth: 1}
      : {color: BEIGE}
  }));
}

function loadingXAxis(gi) {
  return {
    type: 'value', gridIndex: gi, min: -1, max: 1, interval: 0.25,
    axisLine: {show: false}, axisTick: {show: false},
    axisLabel: {
      color: '#4d4d4d', fontSize: 14, fontFamily: FONT, margin: 5,
      formatter: v => loadingTickLabels.some(t => Math.abs(t - v) < 1e-9) ? v.toFixed(1) : ''
    },
    splitLine: {show: true, showMinLine: false, showMaxLine: false, lineStyle: {color: GRID_COL, width: 1.2}}
  };
}

function catYAxis(gi, showLabels) {
  return {
    type: 'category', gridIndex: gi, data: categories, inverse: true,
    axisLine: {show: false}, axisTick: {show: false},
    axisLabel: {show: showLabels, interval: 0, color: '#000', fontSize: 19, fontFamily: FONT, margin: 17},
    splitLine: {show: true, alignWithLabel: true, interval: 0, lineStyle: {color: GRID_COL, width: 1.2}}
  };
}

function scatterXAxis(gi, min, max, ticks, name, fmt) {
  return {
    type: 'value', gridIndex: gi, min: min, max: max,
    name: name, nameLocation: 'middle', nameGap: 32,
    nameTextStyle: {color: '#000', fontSize: 18.5, fontFamily: FONT},
    axisLine: {show: true, onZero: false, lineStyle: {color: '#222', width: 1.4}},
    axisTick: {show: true, length: 5, customValues: ticks, lineStyle: {color: '#333'}},
    axisLabel: {customValues: ticks, color: '#4d4d4d', fontSize: 12, fontFamily: FONT, margin: 14,
      formatter: fmt || (v => String(v))},
    splitLine: {show: false}
  };
}

function scatterYAxis(gi, min, max, ticks, name) {
  return {
    type: 'value', gridIndex: gi, min: min, max: max,
    name: name, nameLocation: 'middle', nameGap: 31, nameRotate: 90,
    nameTextStyle: {color: '#000', fontSize: 18.5, fontFamily: FONT},
    axisLine: {show: true, onZero: false, lineStyle: {color: '#222', width: 1.4}},
    axisTick: {show: true, length: 5, customValues: ticks, lineStyle: {color: '#333'}},
    axisLabel: {customValues: ticks, color: '#4d4d4d', fontSize: 12, fontFamily: FONT, margin: 12},
    splitLine: {show: false}
  };
}

function pointsSeries(data, idx) {
  return {
    type: 'scatter', xAxisIndex: idx, yAxisIndex: idx, data: data, symbolSize: 5.6, z: 2,
    itemStyle: {color: 'rgba(0,0,0,0.45)', borderColor: 'rgba(0,0,0,0.35)', borderWidth: 0.6},
    silent: true
  };
}

function bandSeries(band, idx) {
  return {
    type: 'custom', xAxisIndex: idx, yAxisIndex: idx, data: band, z: 3, silent: true,
    encode: {x: 0, y: [1, 2]},
    renderItem: function (params, api) {
      if (params.dataIndex !== 0) return null;
      const upper = band.map(b => api.coord([b[0], b[2]]));
      const lower = band.slice().reverse().map(b => api.coord([b[0], b[1]]));
      return {type: 'polygon', shape: {points: upper.concat(lower)}, style: {fill: 'rgba(240,239,222,0.75)'}};
    }
  };
}

function fitSeries(fit, idx) {
  return {
    type: 'line', xAxisIndex: idx, yAxisIndex: idx, data: fit, symbol: 'none', z: 4, silent: true,
    lineStyle: {color: '#d9726d', width: 5}
  };
}

function txt(text, x, y, size, align, family) {
  return {
    type: 'text', x: x, y: y, silent: true,
    style: {text: text, fontSize: size, fontFamily: family || FONT, fill: '#000',
      align: align || 'center', verticalAlign: 'middle'}
  };
}

const option = {
  animation: false,
  backgroundColor: '#fff',
  grid: [
    {left: 420.7, top: 117, width: 149.2, height: 1002},
    {left: 607.7, top: 117, width: 149.2, height: 1002},
    {left: 889.3, top: 108, width: 379.7, height: 274.7},
    {left: 883.3, top: 507.3, width: 378.4, height: 274.4},
    {left: 883.3, top: 906, width: 380.7, height: 274}
  ],
  xAxis: [
    loadingXAxis(0),
    loadingXAxis(1),
    scatterXAxis(2, -2.41, 2.68, [-2, -1, 0, 1, 2], 'Total Requests'),
    scatterXAxis(3, -2.38, 2.66, [-2, -1, 0, 1, 2], 'Total Requests'),
    scatterXAxis(4, -0.211, 0.459, [-0.2, 0, 0.2, 0.4], 'Request Rate Friendly - Hostile', v => v.toFixed(1))
  ],
  yAxis: [
    catYAxis(0, true),
    catYAxis(1, false),
    scatterYAxis(2, -2.9, 2.77, [-2, -1, 0, 1, 2], 'Social Thriving'),
    scatterYAxis(3, -3.62, 3.04, [-2, 0, 2], 'Pleasure'),
    scatterYAxis(4, -3.62, 3.03, [-2, 0, 2], 'Pleasure')
  ],
  series: [
    {type: 'bar', xAxisIndex: 0, yAxisIndex: 0, data: barData(socialThriving), barWidth: 22.6, silent: true},
    {type: 'bar', xAxisIndex: 1, yAxisIndex: 1, data: barData(pleasure), barWidth: 22.6, silent: true},
    pointsSeries(scatterB, 2), bandSeries(bandB, 2), fitSeries(fitB, 2),
    pointsSeries(scatterC, 3), bandSeries(bandC, 3), fitSeries(fitC, 3),
    pointsSeries(scatterD, 4), bandSeries(bandD, 4), fitSeries(fitD, 4)
  ],
  graphic: [
    txt('A', 182, 68, 30),
    txt('B', 886, 73, 30),
    txt('C', 886, 469, 30),
    txt('D', 889, 873, 30),
    txt('Social Thriving', 489, 83, 20),
    txt('Pleasure', 686, 83, 20),
    txt('Factor loadings', 608, 1153, 19.3),
    txt('\u2731', 1150, 79, 22, 'center', 'DejaVu Sans'),
    txt(annotations[0], 1175, 80, 13.3, 'left'),
    txt('\u2731', 1150, 506, 22, 'center', 'DejaVu Sans'),
    txt(annotations[1], 1167, 507, 12, 'left'),
    txt('\u2731', 1150, 902, 22, 'center', 'DejaVu Sans'),
    txt(annotations[2], 1174, 903, 12, 'left')
  ]
};
chart.setOption(option);

// fit caption lines to the column width (layout only)
(function fitCaption() {
  const W = 1362;
  document.querySelectorAll('#caption div').forEach(d => {
    const span = d.firstElementChild;
    const w = span.getBoundingClientRect().width;
    const n = span.textContent.length;
    if (w > W - 4) {
      span.style.letterSpacing = ((W - 4 - w) / n).toFixed(3) + 'px';
    }
    if (!d.classList.contains('last')) d.classList.add('fit');
  });
})();
</script>
</body>
</html>
